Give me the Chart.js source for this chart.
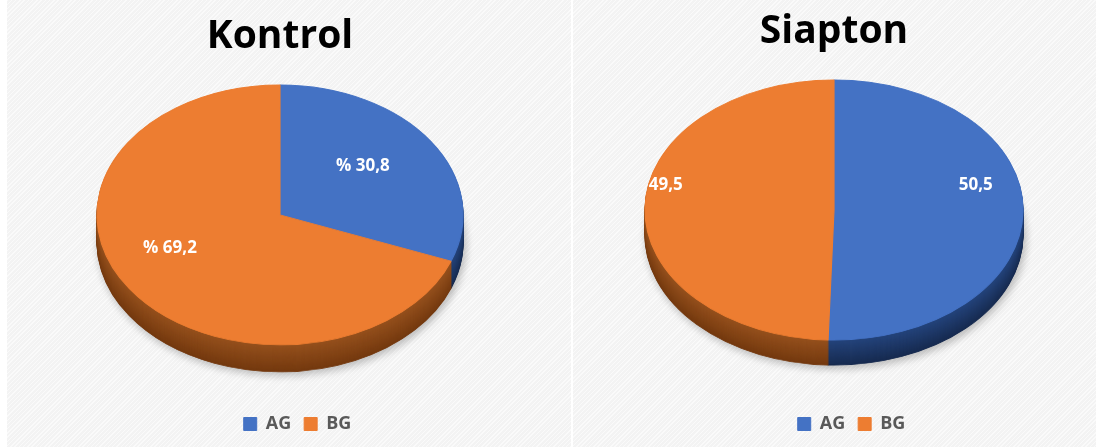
<!DOCTYPE html>
<html><head><meta charset="utf-8">
<script src="https://cdn.jsdelivr.net/npm/chart.js@4.4.1/dist/chart.umd.min.js"></script>
<style>
html,body{margin:0;padding:0;background:#fff;width:1096px;height:447px;overflow:hidden;}
.panel{position:absolute;top:0;height:447px;background-color:#f3f3f3;
 background-image:repeating-linear-gradient(135deg, rgba(255,255,255,0.6) 0 1px, rgba(255,255,255,0) 1px 3px);}
#p1{left:7px;width:564px;}
#p2{left:573px;width:523px;}
canvas{position:absolute;left:0;top:0;}
</style></head><body>
<div class="panel" id="p1"><canvas id="c1" width="564" height="447"></canvas></div>
<div class="panel" id="p2"><canvas id="c2" width="523" height="447"></canvas></div>
<script>
// ---- data ----
const categories = ['AG', 'BG'];
const kontrolValues = [30.8, 69.2];
const siaptonValues = [50.5, 49.5];
const chartTitles = ['Kontrol', 'Siapton'];
const labelPrefixes = ['% ', ''];

// ---- styles ----
const faceColors = ['#4472C4', '#ED7D31'];
const sideTopColors = ['#24437a', '#94501d'];
const sideBottomColors = ['#172b50', '#74390f'];

function hex2rgb(h){h=h.replace('#','');return [0,2,4].map(i=>parseInt(h.substr(i,2),16));}
function mix(c1,c2,t){const a=hex2rgb(c1),b=hex2rgb(c2);return 'rgb('+a.map((v,i)=>Math.round(v+(b[i]-v)*t)).join(',')+')';}

const pie3d = {
  id: 'pie3d',
  beforeDatasetsDraw(chart, args, o) {
    const ctx = chart.ctx, ca = chart.chartArea, arcs = chart.getDatasetMeta(0).data;
    if (!arcs.length) return;
    const a = (ca.right - ca.left) / 2, b = a * o.tilt;
    const cx = (ca.left + ca.right) / 2, cy = ca.top + b;
    const x0 = arcs[0].x, y0 = arcs[0].y, r0 = arcs[0].outerRadius;
    chart.$ell = {a, b, cx, cy};
    const apply = dy => { ctx.translate(cx, cy + dy); ctx.scale(a / r0, b / r0); ctx.translate(-x0, -y0); };
    for (let d = o.depth; d >= 1; d--) {
      const t = (d - 1) / Math.max(1, o.depth - 1);
      ctx.save();
      if (d === o.depth) { ctx.shadowColor = 'rgba(0,0,0,0.25)'; ctx.shadowBlur = 8; ctx.shadowOffsetX = 2; ctx.shadowOffsetY = 3; }
      apply(d);
      arcs.forEach((arc, i) => {
        const col = mix(o.sideTop[i], o.sideBottom[i], t);
        const f = Object.create(arc);
        f.options = Object.assign({}, arc.options, {backgroundColor: col, borderColor: col});
        f.draw(ctx);
      });
      ctx.restore();
    }
    ctx.save();
    apply(0);
    chart.$pieSaved = true;
  },
  afterDatasetsDraw(chart, args, o) {
    const ctx = chart.ctx;
    if (!chart.$pieSaved) return;
    ctx.restore();
    chart.$pieSaved = false;
    const e = chart.$ell, arcs = chart.getDatasetMeta(0).data, data = chart.data.datasets[0].data;
    ctx.save();
    ctx.fillStyle = o.labelColor;
    ctx.font = o.labelFont;
    ctx.textAlign = 'center';
    ctx.textBaseline = 'middle';
    arcs.forEach((arc, i) => {
      const m = (arc.startAngle + arc.endAngle) / 2;
      const r = o.labelRadius[i];
      const x = e.cx + r * e.a * Math.cos(m);
      const y = e.cy + r * e.b * Math.sin(m) - o.labelLift[i];
      ctx.fillText(o.prefix + data[i].toFixed(1).replace('.', ','), x, y);
    });
    ctx.restore();
  }
};

// legend items, with a transparent spacer in front so the visible entries sit right of centre
function legendItems(chart) {
  const items = Chart.overrides.pie.plugins.legend.labels.generateLabels(chart);
  items.unshift({ text: '', fillStyle: 'rgba(0,0,0,0)', strokeStyle: 'rgba(0,0,0,0)', lineWidth: 0, hidden: false, index: -1, fontColor: 'rgba(0,0,0,0)' });
  return items;
}

function makeChart(id, values, title, prefix, lay) {
  return new Chart(document.getElementById(id), {
    type: 'pie',
    data: {
      labels: categories,
      datasets: [{ data: values, backgroundColor: faceColors, borderColor: faceColors, borderWidth: 1 }]
    },
    plugins: [pie3d],
    options: {
      responsive: false,
      animation: false,
      events: [],
      devicePixelRatio: 1,
      layout: { padding: { left: lay.padL, right: lay.padR, top: 0, bottom: 4 } },
      plugins: {
        tooltip: { enabled: false },
        title: {
          display: true, text: title, color: '#000000',
          font: { family: 'Open Sans', size: 39, weight: 'bold', lineHeight: 1.2 },
          padding: { top: lay.titleTop, bottom: lay.titleBottom }
        },
        legend: {
          display: true, position: 'bottom',
          labels: {
            boxWidth: 13, boxHeight: 13, padding: 13, color: '#595959',
            font: { family: 'Open Sans', size: 18, weight: 'bold' },
            generateLabels: legendItems
          }
        },
        pie3d: {
          tilt: lay.tilt, depth: lay.depth,
          sideTop: sideTopColors, sideBottom: sideBottomColors,
          labelColor: '#ffffff', labelFont: 'bold 17px "Open Sans"',
          prefix: prefix, labelRadius: lay.labelRadius, labelLift: lay.labelLift
        }
      }
    }
  });
}

makeChart('c1', kontrolValues, chartTitles[0], labelPrefixes[0],
  { padL: 90, padR: 108, titleTop: 13, titleBottom: 25.2, tilt: 0.71, depth: 27,
    labelRadius: [0.55, 0.73], labelLift: [8, 21] });
makeChart('c2', siaptonValues, chartTitles[1], labelPrefixes[1],
  { padL: 72, padR: 73, titleTop: 8, titleBottom: 25.2, tilt: 0.688, depth: 25,
    labelRadius: [0.75, 0.89], labelLift: [26, 23] });
</script>
</body></html>
